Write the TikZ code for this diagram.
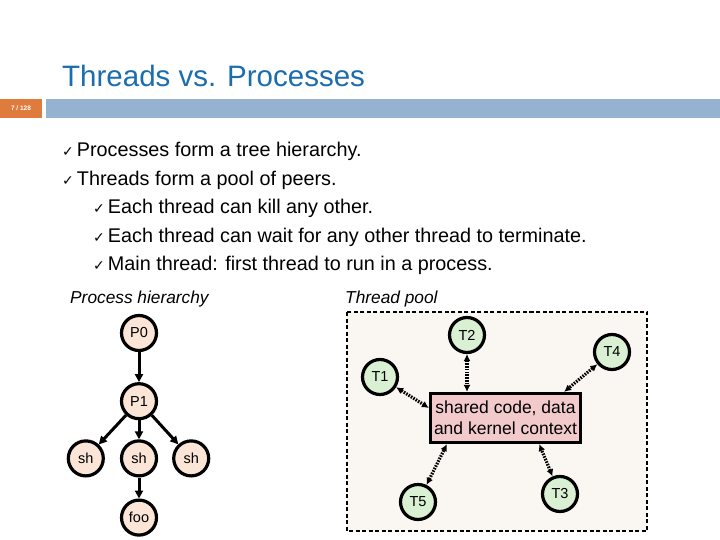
\documentclass[tikz,border=0pt]{standalone}
\usepackage{fontspec}
\setmainfont{Liberation Sans}
\newfontfamily\symfont{DejaVu Sans}
\usetikzlibrary{positioning,arrows.meta}
\usepackage{xcolor}

\definecolor{titleblue}{HTML}{1B6DAE}
\definecolor{barblue}{HTML}{95B3D1}
\definecolor{barorange}{HTML}{E07B3E}
\definecolor{procfill}{HTML}{FBE5D6}
\definecolor{threadfill}{HTML}{D9F0D3}
\definecolor{sharedfill}{HTML}{F2CACB}
\definecolor{poolfill}{HTML}{FAF6F2}

\newcommand{\chk}{{\symfont\fontsize{14bp}{14bp}\selectfont\char"2713}}

\tikzset{
    proc/.style={circle, draw, line width=3.2bp, fill=procfill, minimum size=35bp,
                 inner sep=0pt, font=\fontsize{14.5bp}{16bp}\selectfont},
    thread/.style={proc, fill=threadfill},
    treearrow/.style={-{Triangle[length=8bp,width=8bp]}, line width=3bp},
    sharearrow/.style={{Latex[length=7bp,width=7bp]}-{Latex[length=7bp,width=7bp]},
                 line width=3.2bp, dash pattern=on 1.6bp off 1.2bp},
    bullet/.style={anchor=base west, inner sep=0pt, font=\fontsize{19.8bp}{22bp}\selectfont},
    caption/.style={anchor=base west, inner sep=0pt, font=\fontsize{17.3bp}{20bp}\selectfont\itshape}
}

\begin{document}
\begin{tikzpicture}[x=1bp, y=-1bp]
    \useasboundingbox[fill=white] (0,0) rectangle (720,540);

    % title and bar
    \node (title) [anchor=base west, inner sep=0pt, text=titleblue,
        font=\fontsize{29.5bp}{32bp}\selectfont] at (62,86.5) {Threads vs. Processes};
    \fill[barorange] (0,99) rectangle (42,118);
    \fill[barblue] (46,99) rectangle (720,118);
    \node (page) [text=white, font=\fontsize{6.5bp}{7bp}\selectfont\bfseries] at (21,108.5) {7 / 128};

    % bullets
    \node (b1) [bullet] at (62,157)   {\chk\hspace{3bp}Processes form a tree hierarchy.};
    \node (b2) [bullet] at (62,185.5) {\chk\hspace{3bp}Threads form a pool of peers.};
    \node (b3) [bullet] at (93,214)   {\chk\hspace{3bp}Each thread can kill any other.};
    \node (b4) [bullet] at (93,242.5) {\chk\hspace{3bp}Each thread can wait for any other thread to terminate.};
    \node (b5) [bullet] at (93,271)   {\chk\hspace{3bp}Main thread: first thread to run in a process.};

    % process hierarchy
    \node (hier) [caption] at (70,303) {Process hierarchy};
    \node (p0) [proc] at (139,333) {P0};
    \node (p1) [proc, below=30bp of p0] {P1};
    \node (shm) [proc, below=19bp of p1] {sh};
    \node (shl) [proc, left=15bp of shm] {sh};
    \node (shr) [proc, right=14bp of shm] {sh};
    \node (foo) [proc, below=21bp of shm] {foo};

    \draw[treearrow] (p0) -- (p1);
    \draw[treearrow] (p1) -- (shl);
    \draw[treearrow] (p1) -- (shm);
    \draw[treearrow] (p1) -- (shr);
    \draw[treearrow] (shm) -- (foo);

    % thread pool
    \node (poolcap) [caption] at (345,303) {Thread pool};
    \draw[line width=2.2bp, dash pattern=on 4bp off 2.5bp, fill=poolfill] (347,312) rectangle (647,531);
    \node (shared) [draw, line width=3.2bp, fill=sharedfill, minimum width=150bp, minimum height=49bp,
        inner sep=0pt, align=center, font=\fontsize{17.5bp}{21bp}\selectfont] at (505.5,418)
        {shared code, data\\and kernel context};
    \node (t1) [thread] at (380,377) {T1};
    \node (t2) [thread] at (467,335) {T2};
    \node (t3) [thread] at (560,494) {T3};
    \node (t4) [thread] at (612,352) {T4};
    \node (t5) [thread] at (418,502) {T5};

    \draw[sharearrow] (t1) -- ([yshift=10bp]shared.west);
    \draw[sharearrow] (t2) -- (t2 |- shared.north);
    \draw[sharearrow] (t4) -- ([xshift=-18bp]shared.north east);
    \draw[sharearrow] (t5) -- ([xshift=18bp]shared.south west);
    \draw[sharearrow] (t3) -- ([xshift=-43bp]shared.south east);
\end{tikzpicture}
\end{document}
